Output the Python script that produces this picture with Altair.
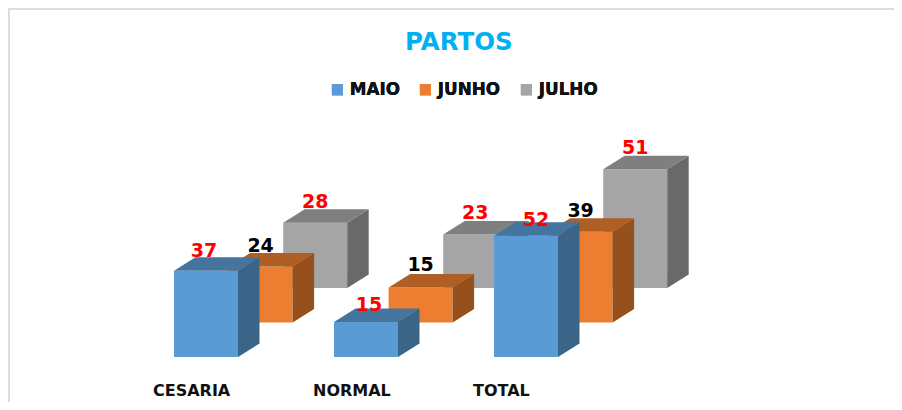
import altair as alt
import pandas as pd

categories = ["CESARIA", "NORMAL", "TOTAL"]
series = ["MAIO", "JUNHO", "JULHO"]
maio = [37, 15, 52]
junho = [24, 15, 39]
julho = [28, 23, 51]
label_red = {"MAIO": [True, True, True], "JUNHO": [False, False, False], "JULHO": [True, True, True]}
values = {"MAIO": maio, "JUNHO": junho, "JULHO": julho}

FRONT = {"MAIO": "#5B9BD5", "JUNHO": "#ED7D31", "JULHO": "#A5A5A5"}
SIDE = {"MAIO": "#3A6588", "JUNHO": "#95501C", "JULHO": "#696969"}
TOP = {"MAIO": "#43759F", "JUNHO": "#B05F24", "JULHO": "#7F7F7F"}

W, H = 886, 394
PX_X = 160.0      # px per category
PX_Y = 2.33       # px per value unit
BASE = 349.0      # baseline y in the chart
X0 = 166 / PX_X   # first front-left corner
BAR = 64 / PX_X
SER_DX = 54.6 / PX_X
SER_DY = 34.5 / PX_Y
DEP_DX = 21.5 / PX_X
DEP_DY = 13.5 / PX_Y
FONT = "DejaVu Sans"

xs = alt.Scale(domain=[0, W / PX_X], range=[0, W], nice=False, zero=False)
ys = alt.Scale(domain=[-(H - BASE) / PX_Y, BASE / PX_Y], range=[H, 0], nice=False, zero=False)

front_rows, side_rows, top_rows, label_rows = [], [], [], []
nudge = {("MAIO", 0): (-2, 1), ("MAIO", 1): (3, 4), ("MAIO", 2): (10, 5), ("JUNHO", 1): (0, -2)}
for s_i, s in enumerate(series):
    for c_i, c in enumerate(categories):
        v = values[s][c_i]
        left = X0 + c_i + s_i * SER_DX
        right = left + BAR
        base = s_i * SER_DY
        top = base + v
        front_rows.append(dict(series=s, cat=c, x=left, x2=right, y=base, y2=top))
        side_rows += [
            dict(series=s, cat=c, x=right, y=base, y2=top),
            dict(series=s, cat=c, x=right + DEP_DX, y=base + DEP_DY, y2=top + DEP_DY),
        ]
        top_rows += [
            dict(series=s, cat=c, y=top, x=left, x2=right),
            dict(series=s, cat=c, y=top + DEP_DY, x=left + DEP_DX, x2=right + DEP_DX),
        ]
        nx, ny = nudge.get((s, c_i), (0, 0))
        label_rows.append(dict(
            series=s, cat=c, v=v,
            x=left + (32 + nx) / PX_X,
            y=top + (15 - ny) / PX_Y,
            col="#FF0000" if label_red[s][c_i] else "#000000",
        ))

front = pd.DataFrame(front_rows)
side = pd.DataFrame(side_rows)
topf = pd.DataFrame(top_rows)
labels = pd.DataFrame(label_rows)

LABEL_X0 = 144.5 / PX_X
tick_vals = [LABEL_X0 + i for i in range(len(categories))]
label_expr = "[" + ",".join(f"'{c}'" for c in categories) + "][round(datum.value - %f)]" % LABEL_X0

x_axis = alt.Axis(
    values=tick_vals, labelExpr=label_expr, domain=False, ticks=False, grid=False,
    title=None, labelAlign="left", labelFont=FONT, labelFontWeight="bold",
    labelFontSize=16, labelColor="#111111", labelPadding=0, offset=-7, labelBaseline="alphabetic",
)

frame_top = alt.Chart().mark_rule(color="#DDDDDD", strokeWidth=2).encode(
    x=alt.value(0), x2=alt.value(W), y=alt.value(1))
frame_left = alt.Chart().mark_rule(color="#DDDDDD", strokeWidth=2).encode(
    x=alt.value(1), y=alt.value(0), y2=alt.value(H))

color = alt.Color(
    "series:N",
    scale=alt.Scale(domain=series, range=[FRONT[s] for s in series]),
    legend=alt.Legend(
        title=None, orient="none", legendX=321, legendY=73, direction="horizontal",
        symbolType="square", symbolSize=121, symbolStrokeWidth=0, labelFont=FONT,
        labelFontWeight="bold", labelFontSize=16.8, labelColor="#111111", labelOffset=4,
        columnPadding=17, padding=0, labelLimit=200,
    ),
)

layers = [frame_top, frame_left]
for s in reversed(series):
    f = alt.Chart(front[front.series == s]).mark_rect().encode(
        x=alt.X("x:Q", scale=xs, axis=x_axis),
        x2="x2:Q",
        y=alt.Y("y:Q", scale=ys, axis=None),
        y2="y2:Q",
        color=color,
    )
    sd = alt.Chart(side[side.series == s]).mark_area(color=SIDE[s], orient="vertical").encode(
        x=alt.X("x:Q", scale=xs, axis=x_axis),
        y=alt.Y("y:Q", scale=ys, axis=None),
        y2="y2:Q",
        detail="cat:N",
    )
    tp = alt.Chart(topf[topf.series == s]).mark_area(color=TOP[s], orient="horizontal").encode(
        y=alt.Y("y:Q", scale=ys, axis=None),
        x=alt.X("x:Q", scale=xs, axis=x_axis),
        x2="x2:Q",
        detail="cat:N",
    )
    layers += [f, sd, tp]

text = alt.Chart(labels).mark_text(
    font=FONT, fontWeight="bold", fontSize=19, baseline="alphabetic", align="center"
).encode(
    x=alt.X("x:Q", scale=xs, axis=x_axis),
    y=alt.Y("y:Q", scale=ys, axis=None),
    text="v:Q",
    color=alt.Color("col:N", scale=None, legend=None),
)
layers.append(text)

chart = alt.layer(*layers).properties(
    width=W, height=H, padding=0, autosize=alt.AutoSizeParams(type="none"),
    title=alt.TitleParams(
        "PARTOS", font=FONT, fontWeight="bold", fontSize=24.5, color="#00B0F0",
        anchor="start", dx=398, dy=67, offset=0, baseline="alphabetic",
    ),
).resolve_scale(color="independent").configure_view(stroke=None)

chart.save("out.html", embed_options={"renderer": "svg", "actions": False})
